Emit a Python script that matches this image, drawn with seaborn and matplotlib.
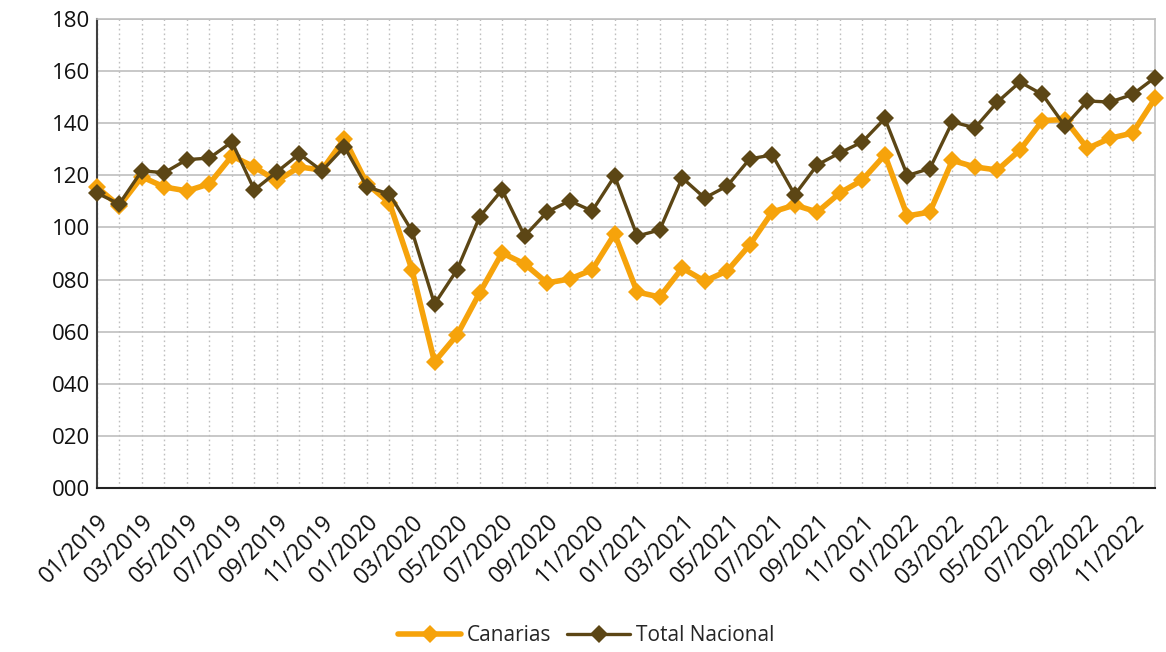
import matplotlib
matplotlib.use("Agg")
import matplotlib.pyplot as plt
import seaborn as sns
import pandas as pd
import numpy as np

# Monthly index values, 01/2019 .. 12/2022
months = [f"{m:02d}/{y}" for y in (2019, 2020, 2021, 2022) for m in range(1, 13)]

canarias = [115.5, 108.2, 119.4, 115.5, 114.0, 116.7, 127.4, 123.2, 117.8, 123.2, 122.0, 134.0,
            116.7, 109.4, 83.7, 48.4, 58.7, 74.8, 90.2, 86.0, 78.7, 80.2, 83.7, 97.5,
            75.2, 73.3, 84.4, 79.4, 83.3, 93.3, 105.9, 108.6, 105.9, 113.2, 118.2, 127.8,
            104.4, 105.9, 125.7, 123.2, 122.0, 129.7, 141.0, 141.4, 130.3, 134.2, 136.2, 149.5]

total_nacional = [113.2, 109.0, 121.7, 121.0, 126.0, 126.6, 132.8, 114.4, 121.3, 128.2, 121.7, 130.9,
                  115.5, 112.8, 98.6, 70.6, 83.7, 104.0, 114.4, 96.7, 105.9, 110.2, 106.3, 119.7,
                  96.7, 99.0, 119.0, 111.3, 115.9, 126.3, 127.8, 112.5, 124.0, 128.6, 132.8, 141.8,
                  119.9, 122.6, 140.5, 138.2, 148.1, 155.8, 151.0, 138.9, 148.5, 148.1, 151.0, 157.5]

series_names = ["Canarias", "Total Nacional"]
colors = {"Canarias": "#F6A30B", "Total Nacional": "#5C4615"}

df = pd.DataFrame({
    "mes": np.tile(np.arange(len(months)), 2),
    "valor": canarias + total_nacional,
    "serie": np.repeat(series_names, len(months)),
})

sns.set_style("white")
plt.rcParams["font.family"] = ["Open Sans", "DejaVu Sans"]

fig = plt.figure(figsize=(11.66, 6.52), dpi=100)
ax = fig.add_axes([0.083, 0.2515, 0.9076, 0.7195])

# vertical dotted month guides and horizontal grid
for i in range(len(months)):
    ax.axvline(i, color="#BFBFBF", lw=1.0, ls=(0, (1.2, 2.2)), zorder=0)
ax.set_axisbelow(True)
ax.yaxis.grid(True, color="#BFBFBF", lw=1.2)

styles = {"Canarias": dict(lw=4.0, ms=9.5), "Total Nacional": dict(lw=2.4, ms=9.5)}
for name in series_names:
    sub = df[df["serie"] == name]
    sns.lineplot(data=sub, x="mes", y="valor", ax=ax, color=colors[name],
                 marker="D", markersize=styles[name]["ms"], markeredgewidth=0,
                 linewidth=styles[name]["lw"], label=name, clip_on=False, zorder=3)

ax.set_xlim(0, len(months) - 1)
ax.set_ylim(0, 180)
ax.set_yticks(range(0, 181, 20))
ax.set_yticklabels([f"{v:03d}" for v in range(0, 181, 20)], fontsize=16, color="#111111")
ax.set_xticks(range(0, len(months), 2))
ax.set_xticklabels(months[::2], rotation=45, ha="right", rotation_mode="anchor",
                   fontsize=16.5, color="#111111")
ax.tick_params(axis="both", length=0)
ax.tick_params(axis="y", pad=5)
ax.tick_params(axis="x", pad=16)
ax.set_xlabel("")
ax.set_ylabel("")

for side in ["top", "right"]:
    ax.spines[side].set_color("#BFBFBF")
    ax.spines[side].set_linewidth(1.2)
ax.spines["left"].set_color("#404040")
ax.spines["left"].set_linewidth(1.5)
ax.spines["bottom"].set_color("#222222")
ax.spines["bottom"].set_linewidth(1.5)

ax.legend(loc="center", bbox_to_anchor=(0.4627, -0.315), ncol=2, frameon=False,
          fontsize=15, handlelength=3.0, columnspacing=0.75, handletextpad=0.3)

fig.savefig("out.png", dpi=100)
